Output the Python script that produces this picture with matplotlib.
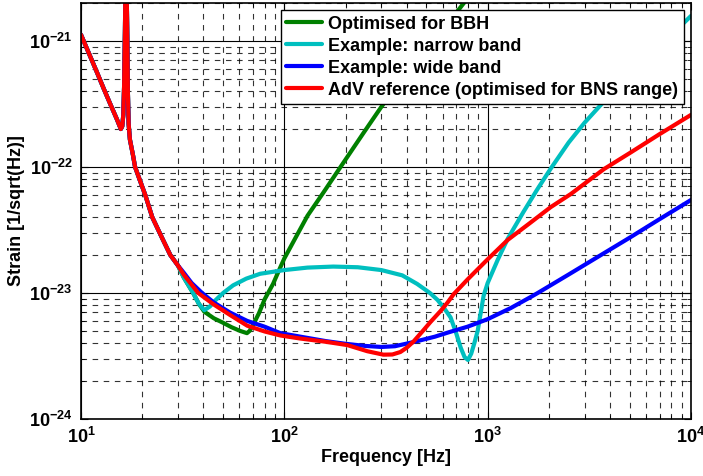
import numpy as np
import matplotlib
matplotlib.use("Agg")
import matplotlib.pyplot as plt
from matplotlib.ticker import FixedLocator, NullFormatter

plt.rcParams['font.family'] = ['Liberation Sans', 'DejaVu Sans']
plt.rcParams['font.weight'] = 'bold'
plt.rcParams['mathtext.fontset'] = 'custom'
plt.rcParams['mathtext.rm'] = 'Liberation Sans:bold'
plt.rcParams['mathtext.bf'] = 'Liberation Sans:bold'
plt.rcParams['mathtext.default'] = 'bf'

# low-frequency part shared by all four curves (suspension / violin spike)
f_shared = [10, 11, 12, 13, 14, 15, 15.7, 15.95, 16.15, 16.3, 16.45, 16.55, 16.75, 16.9,
            17.0, 17.15, 17.4, 18, 18.45, 19.5, 20.7, 22.4, 25, 27.5, 30]
h_shared = [1.12e-21, 7.8e-22, 5.6e-22, 4.1e-22, 3.1e-22, 2.4e-22, 2.0e-22, 2.1e-22, 2.6e-22,
            4.5e-22, 1.2e-21, 3e-21, 3e-21, 1e-21, 4e-22, 2.2e-22, 1.65e-22, 1.25e-22, 1.0e-22,
            7.8e-23, 6.0e-23, 4.0e-23, 2.75e-23, 2.0e-23, 1.65e-23]

# Optimised for BBH
f_bbh = [32, 35.6, 38, 40.4, 45, 50, 55, 60.6, 65.5, 67.5, 70.3, 75, 80, 88, 95.6, 100, 115,
         130, 156, 189, 245, 300, 400, 500, 600, 700, 800]
h_bbh = [1.33e-23, 1.0e-23, 8.2e-24, 7.1e-24, 6.3e-24, 5.8e-24, 5.35e-24, 5.0e-24, 4.8e-24,
         5.0e-24, 5.6e-24, 6.9e-24, 8.9e-24, 1.18e-23, 1.6e-23, 1.88e-23, 2.85e-23, 4.1e-23,
         6.3e-23, 1.0e-22, 1.86e-22, 3.0e-22, 5.6e-22, 8.8e-22, 1.24e-21, 1.67e-21, 2.2e-21]

# Example: narrow band
f_narrow = [32, 35.6, 38, 40.4, 43, 46, 50, 56, 65, 76, 100, 130, 174, 230, 300, 380, 450, 520,
            567, 610, 657, 700, 736, 770, 800, 830, 860, 893, 925, 955, 1000, 1120, 1256, 1500,
            1750, 2042, 2500, 3000, 3725, 5000, 7000, 10000]
h_narrow = [1.33e-23, 1.0e-23, 8.2e-24, 7.3e-24, 7.8e-24, 8.8e-24, 1.0e-23, 1.15e-23, 1.3e-23,
            1.42e-23, 1.52e-23, 1.59e-23, 1.62e-23, 1.6e-23, 1.52e-23, 1.38e-23, 1.18e-23,
            1.0e-23, 8.8e-24, 7.6e-24, 6.4e-24, 4.8e-24, 3.7e-24, 3.1e-24, 2.94e-24, 3.3e-24,
            4.0e-24, 5.0e-24, 7.0e-24, 9.5e-24, 1.2e-23, 1.83e-23, 2.7e-23, 4.4e-23, 6.6e-23,
            9.7e-23, 1.56e-22, 2.25e-22, 3.3e-22, 5.5e-22, 9.0e-22, 1.58e-21]

# Example: wide band
f_wide = [32, 35, 39.4, 45, 54, 65.7, 80, 95.6, 120, 160, 200, 250, 300, 350, 432, 550, 650,
          796, 1000, 1300, 1630, 1763, 2500, 3327, 5000, 7000, 10000]
h_wide = [1.45e-23, 1.2e-23, 1.0e-23, 8.4e-24, 7.0e-24, 6.0e-24, 5.4e-24, 4.8e-24, 4.5e-24,
          4.15e-24, 3.95e-24, 3.8e-24, 3.73e-24, 3.78e-24, 4.08e-24, 4.5e-24, 4.9e-24, 5.4e-24,
          6.2e-24, 7.6e-24, 9.3e-24, 1.0e-23, 1.4e-23, 1.85e-23, 2.75e-23, 3.85e-23, 5.47e-23]

# AdV reference (optimised for BNS range)
f_adv = [32, 37.7, 45, 54, 65.7, 80, 95.6, 120, 160, 204, 256, 307, 340, 372, 400, 432, 480,
         524, 587, 635, 681, 800, 1000, 1256, 1600, 2042, 2564, 3725, 5000, 7000, 10000]
h_adv = [1.4e-23, 1.0e-23, 8.1e-24, 6.7e-24, 5.5e-24, 4.95e-24, 4.6e-24, 4.35e-24, 4.1e-24,
         3.86e-24, 3.45e-24, 3.24e-24, 3.25e-24, 3.4e-24, 3.68e-24, 4.12e-24, 5.0e-24, 5.9e-24,
         7.2e-24, 8.4e-24, 9.8e-24, 1.29e-23, 1.85e-23, 2.64e-23, 3.55e-23, 4.8e-23, 6.1e-23,
         9.6e-23, 1.29e-22, 1.82e-22, 2.59e-22]

labels = ['Optimised for BBH', 'Example: narrow band', 'Example: wide band',
          'AdV reference (optimised for BNS range)']
colors = ['#008000', '#00BFBF', '#0000FF', '#FF0000']
series = [(f_bbh, h_bbh), (f_narrow, h_narrow), (f_wide, h_wide), (f_adv, h_adv)]

x_major = [1e1, 1e2, 1e3, 1e4]
y_major = [1e-24, 1e-23, 1e-22, 1e-21]

fig = plt.figure(figsize=(7.03, 4.76), dpi=100)
ax = fig.add_axes([81 / 703, 57 / 476, 610 / 703, 416 / 476])

for (f, h), lab, c in zip(series, labels, colors):
    ax.loglog(f_shared + f, h_shared + h, color=c, lw=3, label=lab, solid_capstyle='round')

ax.set_xlim(10, 1e4)
ax.set_ylim(1e-24, 2e-21)

ax.xaxis.set_major_locator(FixedLocator(x_major))
ax.yaxis.set_major_locator(FixedLocator(y_major))
x_minor = [m * d for d in x_major[:-1] for m in range(2, 10)]
y_minor = [m * d for d in y_major for m in range(2, 10) if m * d <= 2e-21]
ax.xaxis.set_minor_locator(FixedLocator(x_minor))
ax.yaxis.set_minor_locator(FixedLocator(y_minor))
ax.xaxis.set_minor_formatter(NullFormatter())
ax.yaxis.set_minor_formatter(NullFormatter())

ax.grid(True, which='major', color='k', lw=0.8, ls='-')
ax.grid(True, which='minor', color='k', lw=0.8, ls=(0, (5, 5)), alpha=0.8)
ax.tick_params(which='both', direction='in', top=True, right=True, labelsize=13)
ax.tick_params(which='major', length=5, pad=6)
ax.tick_params(which='minor', length=3)
for s in ax.spines.values():
    s.set_linewidth(1.2)

ax.set_xlabel('Frequency [Hz]', fontsize=13, fontweight='bold', labelpad=1)
ax.set_ylabel('Strain [1/sqrt(Hz)]', fontsize=13, fontweight='bold', labelpad=3)

leg = ax.legend(loc='upper right', fontsize=13, fancybox=False, framealpha=1,
                edgecolor='k', borderaxespad=0.4, borderpad=0.3, labelspacing=0.28,
                handlelength=2.0, handletextpad=0.35)
leg.get_frame().set_linewidth(1.0)
for t in leg.get_texts():
    t.set_fontweight('bold')

fig.savefig('out.png', dpi=100)
